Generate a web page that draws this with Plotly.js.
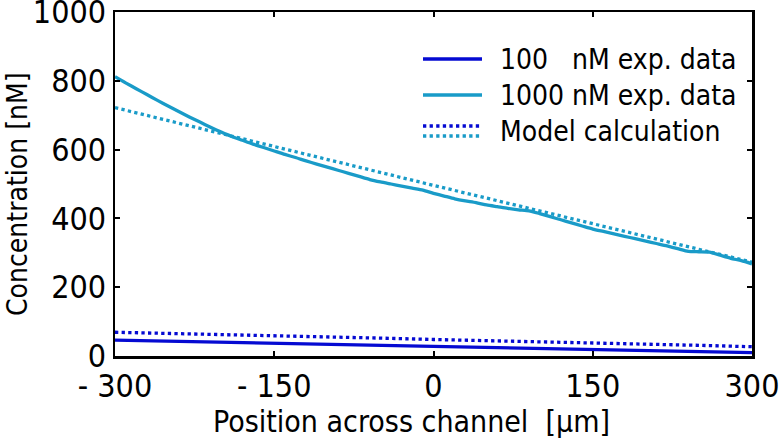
<!DOCTYPE html>
<html>
<head>
<meta charset="utf-8">
<script src="https://cdn.plot.ly/plotly-3.0.1.min.js"></script>
<style>html,body{margin:0;padding:0;background:#fff;}#chart{width:780px;height:439px;}</style>
</head>
<body>
<div id="chart"></div>
<script>
// Position across channel [µm]
var posExp1000 = [-300,-290,-280,-270,-260,-250,-240,-230,-220,-210,-200,-190,-180,-170,-160,-150,-140,-130,-120,-110,-100,-90,-80,-70,-60,-50,-40,-30,-20,-10,0,10,20,30,40,50,60,70,80,90,100,110,120,130,140,150,160,170,180,190,200,210,220,230,240,250,260,270,280,290,300];
var exp1000 = [812,794,777,760,743,727,711,695,680,665,651,638,627,616,606,596,586,577,567,558,549,540,531,522,513,506,500,494,488,482,473,465,457,451,446,439,434,429,425,422,414,405,396,387,378,369,362,355,348,341,334,327,320,312,304,303,302,293,284,277,268];

var posExp100 = [-300,-250,-200,-150,-100,-50,0,50,100,150,200,250,300];
var exp100 = [46,43,40,37,33,29,26,23,20,17,15,12,10];

var posModel = [-300,-250,-200,-150,-100,-50,0,50,100,150,200,250,300];
var model1000 = [722,684,646,608,570,533,496,459,422,385,347,311,273];
var model100 = [69,66,62,59,55,52,48,45,41,38,34,31,27];

var xTickVals = [-300,-150,0,150,300];
var xTickText = ['- 300','- 150','0','150','300'];
var yTickVals = [0,200,400,600,800,1000];

var legendLabels = ['100\u00a0\u00a0\u00a0nM exp. data','1000 nM exp. data','Model calculation'];
var xTitle = 'Position across channel\u00a0\u00a0[µm]';
var yTitle = 'Concentration [nM]';

var darkBlue = 'rgb(5,10,210)';
var lightBlue = 'rgb(25,155,200)';
var FONT = 'DejaVu Sans Condensed, DejaVu Sans, sans-serif';

var traces = [
  {x: posModel, y: model100, mode:'lines', line:{color:darkBlue, width:3.3, dash:'dot'}, showlegend:false},
  {x: posModel, y: model1000, mode:'lines', line:{color:lightBlue, width:3.3, dash:'dot'}, showlegend:false},
  {x: posExp100, y: exp100, mode:'lines', line:{color:darkBlue, width:3.3}, showlegend:false},
  {x: posExp1000, y: exp1000, mode:'lines', line:{color:lightBlue, width:3.3, shape:'spline', smoothing:0.6}, showlegend:false}
];

// manual legend and titles (pixel layout converted to paper coords)
var L=115, R=752, T=12, B=356;
function px(x){return (x-L)/(R-L);}
function py(y){return (B-y)/(B-T);}
var shapes = [
  {type:'line', xref:'paper', yref:'paper', x0:px(423), x1:px(482), y0:py(59), y1:py(59), line:{color:darkBlue, width:3.3}},
  {type:'line', xref:'paper', yref:'paper', x0:px(423), x1:px(482), y0:py(95), y1:py(95), line:{color:lightBlue, width:3.3}},
  {type:'line', xref:'paper', yref:'paper', x0:px(423), x1:px(482), y0:py(126), y1:py(126), line:{color:darkBlue, width:3.3, dash:'dot'}},
  {type:'line', xref:'paper', yref:'paper', x0:px(423), x1:px(482), y0:py(136), y1:py(136), line:{color:lightBlue, width:3.3, dash:'dot'}}
];
var legY = [59,95,131];
var annotations = legendLabels.map(function(t,i){
  return {xref:'paper', yref:'paper', x:px(498), y:py(legY[i]), xanchor:'left', yanchor:'middle', text:t, showarrow:false, font:{family:FONT, size:28, color:'#000'}};
});
annotations.push({xref:'paper', yref:'paper', x:px(411), y:py(421), xanchor:'center', yanchor:'middle', text:xTitle, showarrow:false, font:{family:FONT, size:30, color:'#000'}});
annotations.push({xref:'paper', yref:'paper', x:px(17), y:py(194), xanchor:'center', yanchor:'middle', textangle:-90, text:yTitle, showarrow:false, font:{family:FONT, size:28, color:'#000'}});

var axisCommon = {
  showline:true, linecolor:'#000', linewidth:2.5, mirror:'ticks',
  ticks:'inside', ticklen:5, tickwidth:2, tickcolor:'#000',
  showgrid:false, zeroline:false, ticklabeloverflow:'allow',
  tickfont:{family:FONT, size:32, color:'#000'}
};

var layout = {
  width:780, height:439,
  margin:{l:L, r:780-R, t:T, b:439-B},
  paper_bgcolor:'#fff', plot_bgcolor:'#fff',
  showlegend:false,
  xaxis: Object.assign({}, axisCommon, {
    range:[-300,300], tickmode:'array', tickvals:xTickVals, ticktext:xTickText
  }),
  yaxis: Object.assign({}, axisCommon, {
    range:[0,1000], tickmode:'array', tickvals:yTickVals
  }),
  shapes:shapes,
  annotations:annotations
};

Plotly.newPlot('chart', traces, layout, {displayModeBar:false, staticPlot:true});
</script>
</body>
</html>
